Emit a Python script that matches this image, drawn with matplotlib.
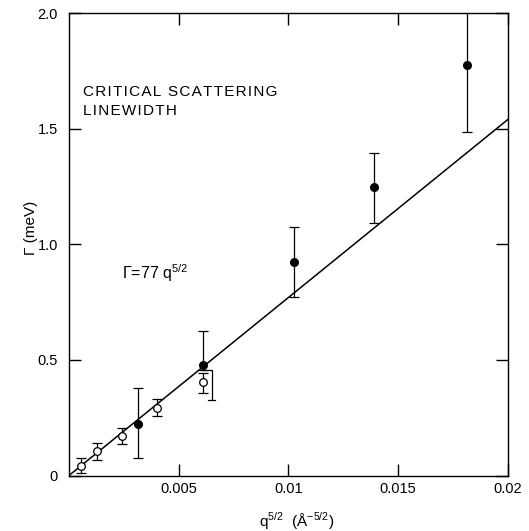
import matplotlib
matplotlib.use("Agg")
import matplotlib.pyplot as plt
import numpy as np

plt.rcParams['font.family'] = ['Liberation Sans', 'DejaVu Sans']
plt.rcParams['mathtext.fontset'] = 'custom'
plt.rcParams['mathtext.rm'] = 'Liberation Sans'
plt.rcParams['mathtext.sf'] = 'Liberation Sans'

# open circles: q^(5/2), linewidth, error bar limits
open_x = [0.00053, 0.00129, 0.0024, 0.0040, 0.00612]
open_y = [0.041, 0.106, 0.171, 0.293, 0.406]
open_lo = [0.011, 0.067, 0.136, 0.258, 0.358]
open_hi = [0.076, 0.141, 0.206, 0.331, 0.445]

# filled circles
full_x = [0.00316, 0.00612, 0.01025, 0.0139, 0.01812]
full_y = [0.222, 0.478, 0.923, 1.246, 1.774]
full_lo = [0.077, 0.457, 0.774, 1.092, 1.486]
full_hi = [0.377, 0.625, 1.073, 1.395, 2.1]

# lower error of the filled point at 0.00612, drawn shifted to the right
shift_x = 0.0065
shift_lo = 0.327

# fitted line  Gamma = 77 q^(5/2)
coef = 77
line_x = np.array([0.0, 0.02])

fig = plt.figure(figsize=(5.29, 5.31), dpi=100)
ax = fig.add_axes([0.1304, 0.1045, 0.8299, 0.871])

ax.plot(line_x, coef * line_x, color='black', lw=1.1, zorder=2)

ax.errorbar(full_x, full_y,
            yerr=[np.array(full_y) - np.array(full_lo), np.array(full_hi) - np.array(full_y)],
            fmt='o', color='black', ms=5.5, elinewidth=0.9, capsize=3.5, capthick=0.9, zorder=3)
ax.errorbar(open_x, open_y,
            yerr=[np.array(open_y) - np.array(open_lo), np.array(open_hi) - np.array(open_y)],
            fmt='o', color='black', mfc='white', mec='black', mew=0.9, ms=5.5,
            elinewidth=0.9, capsize=3.5, capthick=0.9, zorder=4)

# shifted lower error bar (bracket)
ax.plot([full_x[1], shift_x, shift_x], [full_lo[1], full_lo[1], shift_lo],
        color='black', lw=0.9, zorder=3)
ax.plot([shift_x - 0.00016, shift_x + 0.00016], [shift_lo, shift_lo], color='black', lw=0.9)

ax.set_xlim(0, 0.02)
ax.set_ylim(0, 2.0)
ax.set_xticks([0.005, 0.01, 0.015, 0.02])
ax.set_xticklabels(['0.005', '0.01', '0.015', '0.02'])
ax.set_yticks([0, 0.5, 1.0, 1.5, 2.0])
ax.set_yticklabels(['0', '0.5', '1.0', '1.5', '2.0'])
ax.tick_params(direction='in', top=True, right=True, length=8.5, width=1,
               labelsize=10.5)
ax.tick_params(axis='y', pad=8)
ax.tick_params(axis='x', pad=5)
for s in ax.spines.values():
    s.set_linewidth(1)

hs = '\u200a'
ax.text(0.00064, 1.66, hs.join('CRITICAL SCATTERING'), fontsize=11, va='center')
ax.text(0.00064, 1.578, hs.join('LINEWIDTH'), fontsize=11, va='center')
ax.text(0.0024, 0.875, 'Γ=77 q$^{\\mathsf{5/2}}$', fontsize=11.5, va='center')

fig.text(31 / 529, 1 - 228 / 531, 'Γ (meV)', rotation=90, fontsize=11,
         ha='center', va='center')
fig.text(297 / 529, 1 - 521 / 531, 'q$^{\\mathsf{5/2}}$  (Å$^{\\mathsf{-5/2}}$)', fontsize=11,
         ha='center', va='center')

fig.savefig('out.png', dpi=100)
